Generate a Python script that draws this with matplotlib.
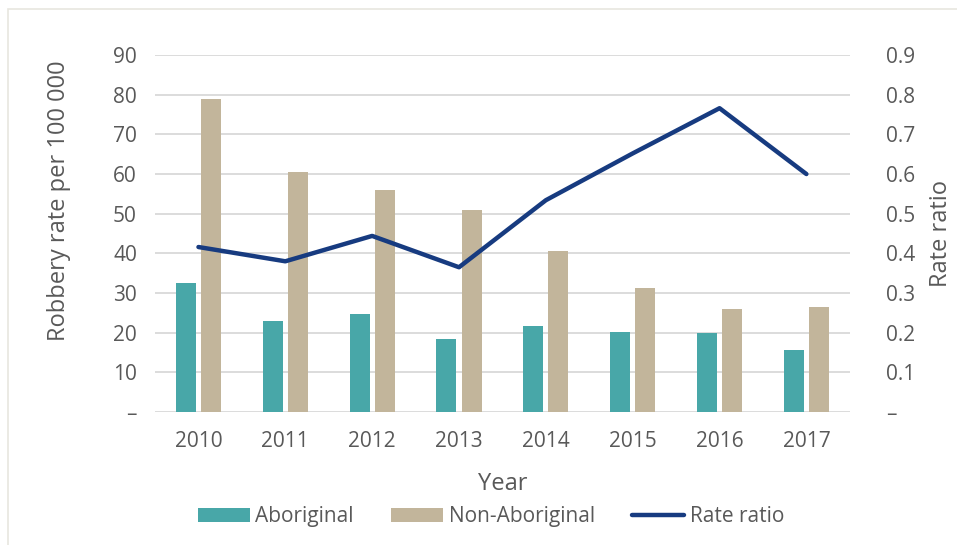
import numpy as np
import matplotlib.pyplot as plt
from matplotlib.patches import Rectangle
from matplotlib.ticker import FuncFormatter

years = ['2010', '2011', '2012', '2013', '2014', '2015', '2016', '2017']
aboriginal = [32.6, 22.9, 24.7, 18.4, 21.7, 20.2, 19.9, 15.6]
non_aboriginal = [78.8, 60.5, 56.0, 51.0, 40.6, 31.2, 26.0, 26.4]
rate_ratio = [0.416, 0.38, 0.444, 0.365, 0.534, 0.652, 0.766, 0.60]

plt.rcParams['font.family'] = ['Open Sans', 'DejaVu Sans']
grey = '#595959'

fig = plt.figure(figsize=(9.57, 5.45), dpi=100)
ax = fig.add_axes([0.162, 0.244, 0.726, 0.655])
ax2 = ax.twinx()

x = np.arange(len(years))
w = 0.23
b1 = ax.bar(x - 0.145, aboriginal, w, color='#48A7A8', label='Aboriginal', zorder=2)
b2 = ax.bar(x + 0.145, non_aboriginal, w, color='#C2B59B', label='Non-Aboriginal', zorder=2)
l1, = ax2.plot(x, rate_ratio, color='#173B80', lw=3.2, label='Rate ratio', solid_capstyle='round')

ax.set_xlim(-0.5, 7.5)
ax.set_ylim(0, 90)
ax2.set_ylim(0, 0.9)
ax.set_yticks(range(0, 91, 10))
ax2.set_yticks(np.arange(0, 0.91, 0.1))
ax.yaxis.set_major_formatter(FuncFormatter(lambda v, p: '–' if v == 0 else f'{v:.0f}'))
ax2.yaxis.set_major_formatter(FuncFormatter(lambda v, p: '–' if abs(v) < 1e-9 else f'{v:.1f}'))
ax.set_xticks(x)
ax.set_xticklabels(years)

ax.grid(axis='y', color='#D9D9D9', lw=1.3, zorder=0)
ax.set_axisbelow(True)
for a in (ax, ax2):
    for s in a.spines.values():
        s.set_visible(False)
    a.tick_params(length=0, labelsize=15, colors=grey)
ax.tick_params(axis='y', pad=13)
ax2.tick_params(axis='y', pad=26)
ax.tick_params(axis='x', pad=14)

ax.set_ylabel('Robbery rate per 100 000', fontsize=17, color=grey, labelpad=30)
ax.yaxis.label.set_y(0.593)  # label sits a bit above centre in the original
ax2.set_ylabel('Rate ratio', fontsize=17, color=grey, labelpad=10)
ax.set_xlabel('Year', fontsize=17, color=grey, labelpad=14)

leg = fig.legend([b1, b2, l1], ['Aboriginal', 'Non-Aboriginal', 'Rate ratio'],
                 loc='center', bbox_to_anchor=(0.513, 0.052), ncol=3, frameon=False,
                 fontsize=15, handlelength=2.5, handletextpad=0.25, columnspacing=1.8)
for t in leg.get_texts():
    t.set_color(grey)

fig.patches.append(Rectangle((0.008, -0.01), 1.0, 0.993, transform=fig.transFigure,
                             fill=False, edgecolor='#E8E6DF', lw=1.2))

fig.savefig('out.png', dpi=100)
